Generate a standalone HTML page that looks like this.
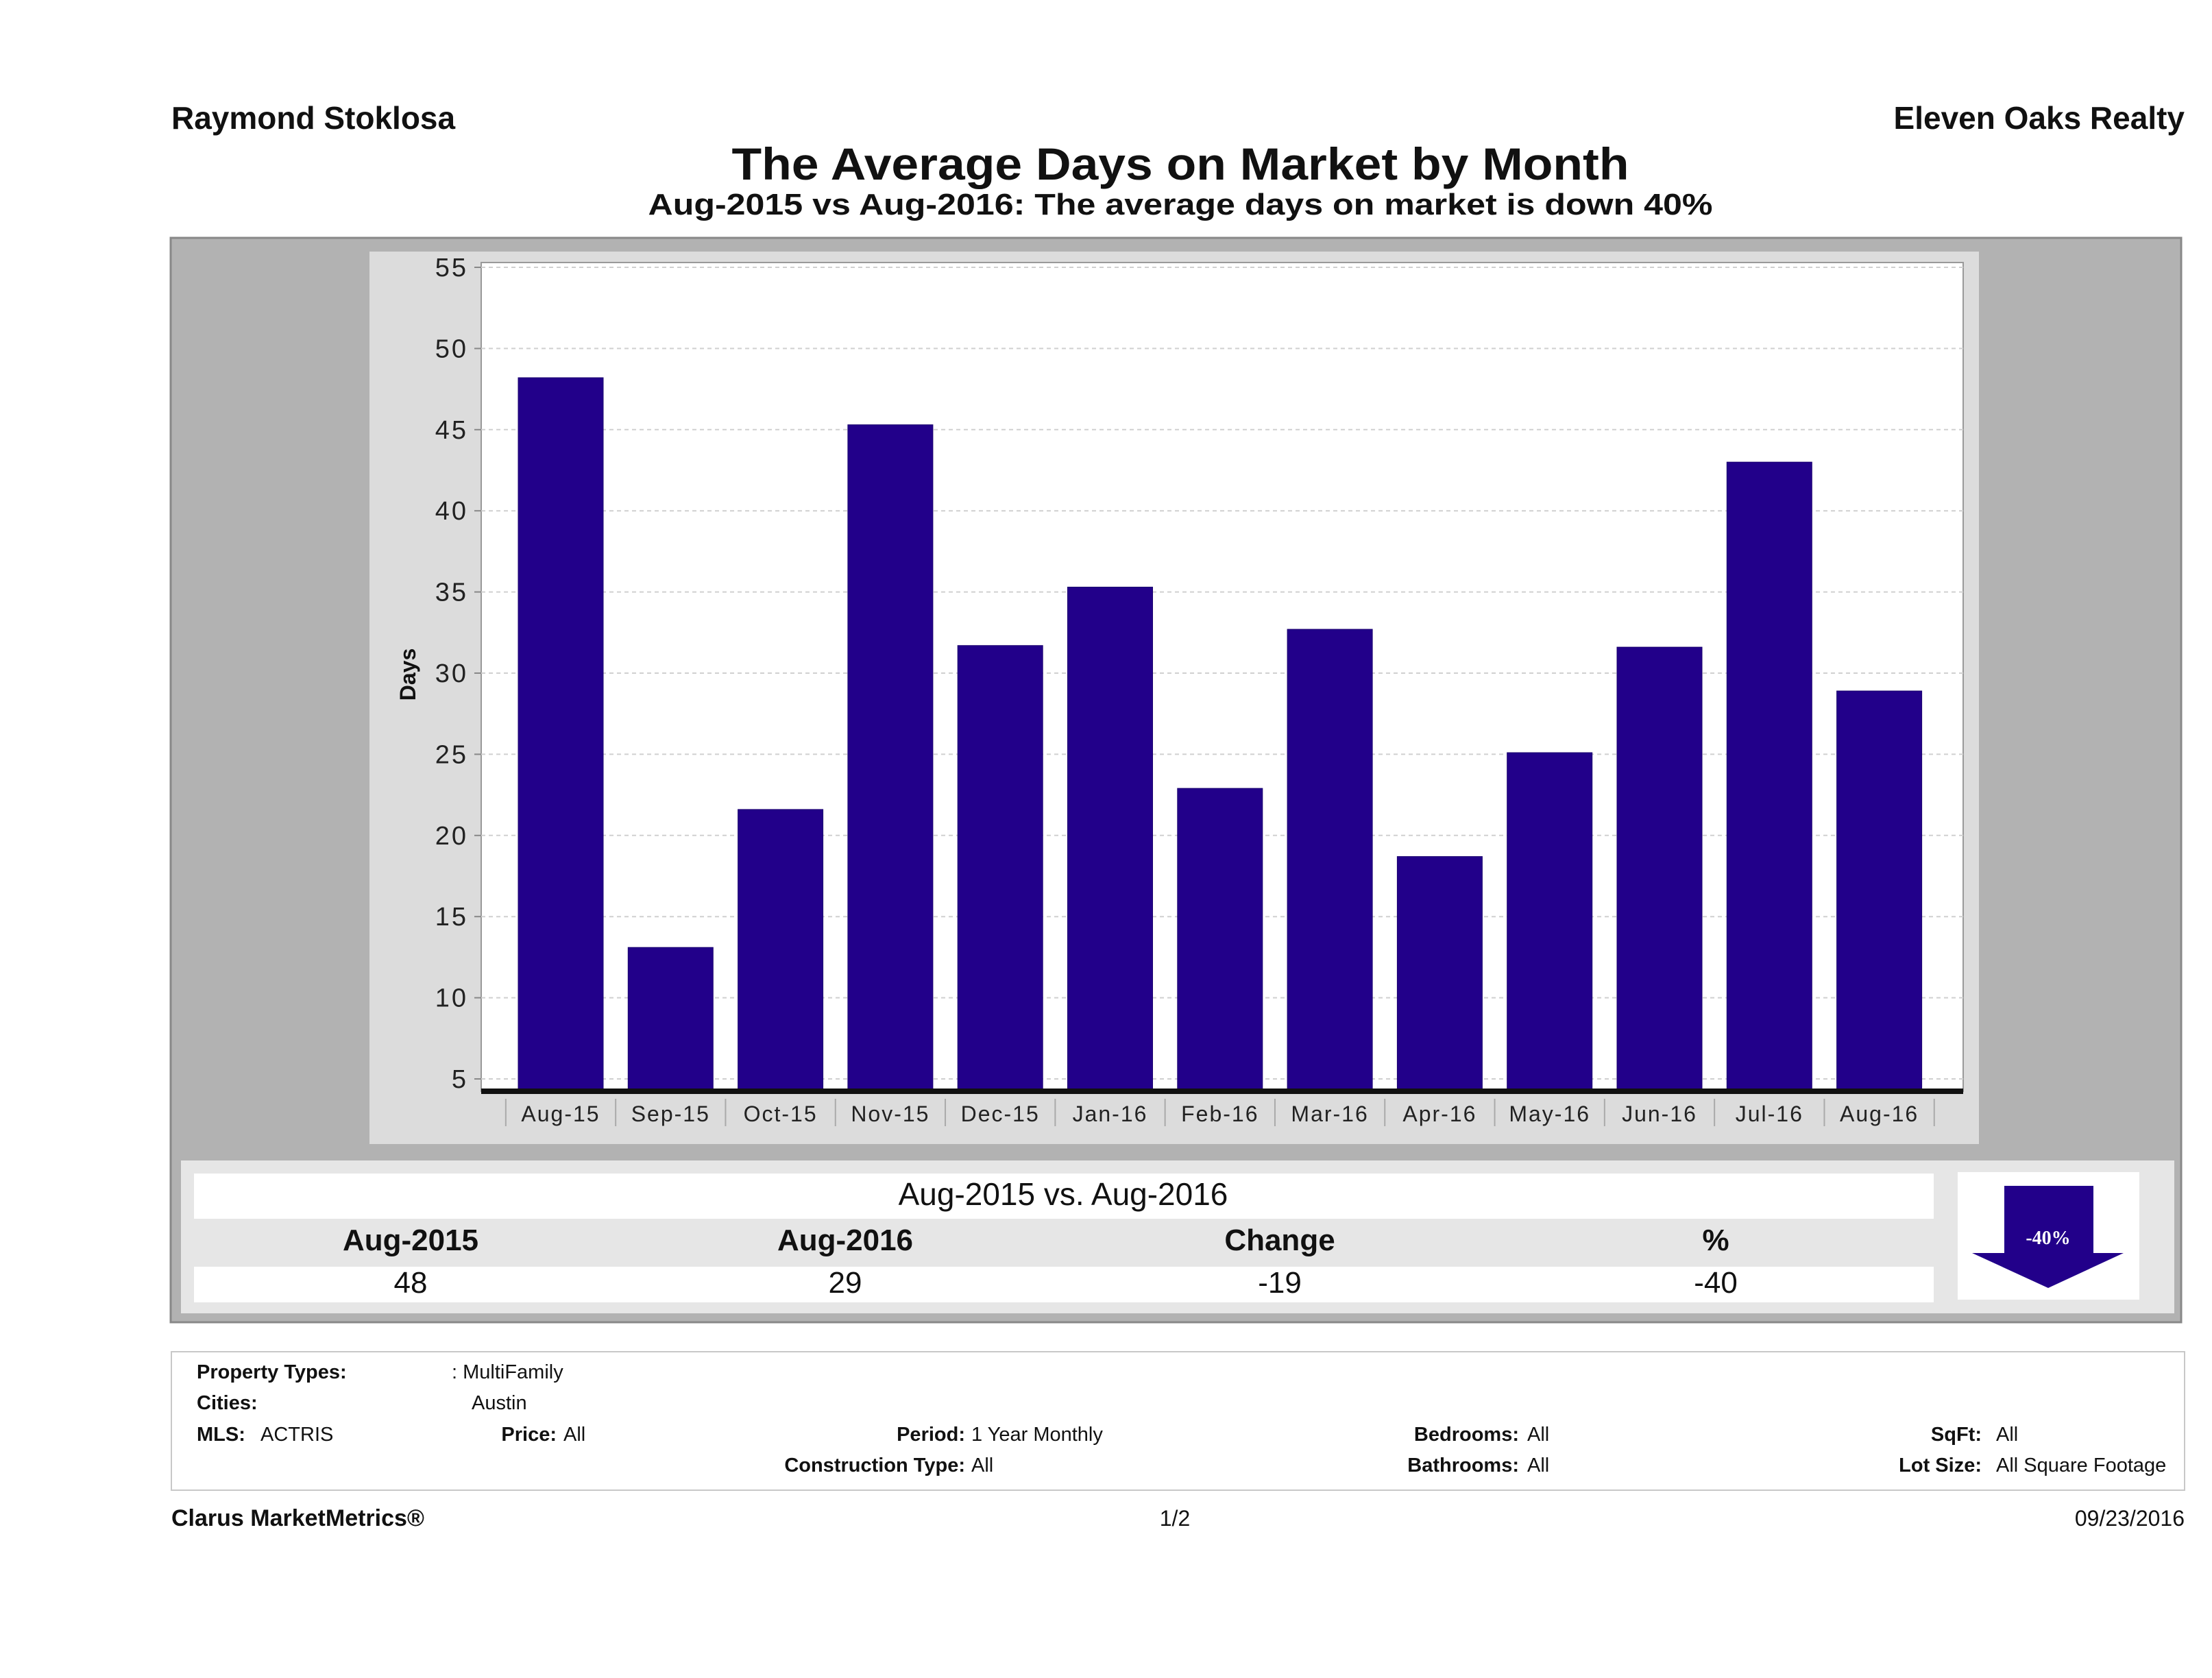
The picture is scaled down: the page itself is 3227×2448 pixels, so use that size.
<!DOCTYPE html>
<html><head><meta charset="utf-8"><style>
html,body{margin:0;padding:0;background:#fff;}
svg{display:block;font-family:"Liberation Sans","DejaVu Sans",sans-serif;}
</style></head><body>
<svg id="page" width="3227" height="2448" viewBox="0 0 3227 2448" xmlns="http://www.w3.org/2000/svg">
<rect width="3227" height="2448" fill="#fff"/>
<text x="250" y="188" font-size="46" font-weight="bold" fill="#111">Raymond Stoklosa</text>
<text x="3187" y="188" font-size="46" font-weight="bold" fill="#111" text-anchor="end">Eleven Oaks Realty</text>
<text x="1722" y="262" font-size="66" font-weight="bold" fill="#111" text-anchor="middle" textLength="1309" lengthAdjust="spacingAndGlyphs">The Average Days on Market by Month</text>
<text x="1722" y="313" font-size="44" font-weight="bold" fill="#111" text-anchor="middle" textLength="1553" lengthAdjust="spacingAndGlyphs">Aug-2015 vs Aug-2016: The average days on market is down 40%</text>

<rect x="249" y="347" width="2933" height="1582" fill="#b2b2b2" stroke="#888" stroke-width="3"/>
<rect x="539" y="367" width="2348" height="1302" fill="#dcdcdc"/>
<rect x="702" y="383" width="2162" height="1209" fill="#fff" stroke="#999" stroke-width="2"/>
<g id="grid"></g>
<g id="bars"></g>
<g id="yaxis"></g>
<g id="xaxis"></g>
<text x="0" y="0" font-size="32" font-weight="bold" fill="#111" text-anchor="middle" transform="translate(606,984) rotate(-90)">Days</text>

<rect x="264" y="1693" width="2908" height="223" fill="#e6e6e6"/>
<rect x="283" y="1712" width="2538" height="66" fill="#fff"/>
<text x="1551" y="1758" font-size="46" fill="#111" text-anchor="middle">Aug-2015 vs. Aug-2016</text>
<rect x="283" y="1848" width="2538" height="52" fill="#fff"/>
<text x="599" y="1824" font-size="44" font-weight="bold" fill="#111" text-anchor="middle">Aug-2015</text>
<text x="1233" y="1824" font-size="44" font-weight="bold" fill="#111" text-anchor="middle">Aug-2016</text>
<text x="1867" y="1824" font-size="44" font-weight="bold" fill="#111" text-anchor="middle">Change</text>
<text x="2503" y="1824" font-size="44" font-weight="bold" fill="#111" text-anchor="middle">%</text>
<text x="599" y="1886" font-size="44" fill="#111" text-anchor="middle">48</text>
<text x="1233" y="1886" font-size="44" fill="#111" text-anchor="middle">29</text>
<text x="1867" y="1886" font-size="44" fill="#111" text-anchor="middle">-19</text>
<text x="2503" y="1886" font-size="44" fill="#111" text-anchor="middle">-40</text>
<rect x="2856" y="1710" width="265" height="186" fill="#fff"/>
<path d="M2924 1730 H3054 V1828 H3098 L2988 1879 L2877 1828 H2924 Z" fill="#22008a"/>
<text x="2988" y="1815" font-size="28" font-weight="bold" fill="#fff" text-anchor="middle" font-family="Liberation Serif, serif">-40%</text>

<rect x="250" y="1972" width="2937" height="202" fill="#fff" stroke="#c8c8c8" stroke-width="2"/>
<g font-size="29" fill="#111">
<text x="287" y="2011" font-weight="bold">Property Types:</text>
<text x="659" y="2011">: MultiFamily</text>
<text x="287" y="2056" font-weight="bold">Cities:</text>
<text x="688" y="2056">Austin</text>
<text x="287" y="2102" font-weight="bold">MLS:</text>
<text x="380" y="2102">ACTRIS</text>
<text x="812" y="2102" font-weight="bold" text-anchor="end">Price:</text>
<text x="822" y="2102">All</text>
<text x="1408" y="2102" font-weight="bold" text-anchor="end">Period:</text>
<text x="1417" y="2102">1 Year Monthly</text>
<text x="1408" y="2147" font-weight="bold" text-anchor="end">Construction Type:</text>
<text x="1417" y="2147">All</text>
<text x="2216" y="2102" font-weight="bold" text-anchor="end">Bedrooms:</text>
<text x="2228" y="2102">All</text>
<text x="2216" y="2147" font-weight="bold" text-anchor="end">Bathrooms:</text>
<text x="2228" y="2147">All</text>
<text x="2891" y="2102" font-weight="bold" text-anchor="end">SqFt:</text>
<text x="2912" y="2102">All</text>
<text x="2891" y="2147" font-weight="bold" text-anchor="end">Lot Size:</text>
<text x="2912" y="2147">All Square Footage</text>
</g>
<text x="250" y="2226" font-size="34" font-weight="bold" fill="#111">Clarus MarketMetrics®</text>
<text x="1714" y="2226" font-size="32" fill="#111" text-anchor="middle">1/2</text>
<text x="3187" y="2226" font-size="32" fill="#111" text-anchor="end">09/23/2016</text>
</svg>
<script>
const categories = ["Aug-15","Sep-15","Oct-15","Nov-15","Dec-15","Jan-16","Feb-16","Mar-16","Apr-16","May-16","Jun-16","Jul-16","Aug-16"];
const daysOnMarket = [48.2,13.1,21.6,45.3,31.7,35.3,22.9,32.7,18.7,25.1,31.6,43.0,28.9];
const yTicks = [5,10,15,20,25,30,35,40,45,50,55];

const NS = "http://www.w3.org/2000/svg";
const plotL = 702, plotR = 2864, baseY = 1592;
function yScale(v){ return 1574 - (v - 5) * (1574 - 390) / 50; }
const step = 160.3, firstCenter = 818, barW = 124;
function xCenter(i){ return firstCenter + i * step; }
function mk(tag, attrs){ const e = document.createElementNS(NS, tag); for (const k in attrs) e.setAttribute(k, attrs[k]); return e; }

const grid = document.getElementById('grid');
const yaxis = document.getElementById('yaxis');
yTicks.forEach(t => {
  const y = yScale(t);
  const g = mk('line', {x1: plotL, x2: plotR, y1: y, y2: y, stroke: '#d0d0d0', 'stroke-width': 2, 'stroke-dasharray': '6,5'});
  
  
  grid.appendChild(g);
  const tk = mk('line', {x1: plotL - 10, x2: plotL, y1: y, y2: y, stroke: '#888', 'stroke-width': 2});
  
  
  yaxis.appendChild(tk);
  const lb = mk('text', {x: 683, y: y + 13, 'font-size': 38, fill: '#222', 'text-anchor': 'end', 'letter-spacing': '3'});
  lb.textContent = t;
  
  
  yaxis.appendChild(lb);
});

const bars = document.getElementById('bars');
daysOnMarket.forEach((v, i) => {
  const top = yScale(v);
  const r = mk('rect', {x: xCenter(i) - barW / 2, y: top, width: barW, height: baseY - top, fill: '#22008a', stroke: '#1a006e', 'stroke-width': 1});
  
  
  bars.appendChild(r);
});

const xaxis = document.getElementById('xaxis');
const base = mk('rect', {x: plotL, y: baseY - 4, width: plotR - plotL, height: 8, fill: '#111'});


xaxis.appendChild(base);
for (let i = 0; i <= categories.length; i++) {
  const x = xCenter(i) - step / 2;
  const s = mk('line', {x1: x, x2: x, y1: 1603, y2: 1643, stroke: '#aaa', 'stroke-width': 2});
  
  
  xaxis.appendChild(s);
}
categories.forEach((c, i) => {
  const t = mk('text', {x: xCenter(i), y: 1636, 'font-size': 32, fill: '#222', 'text-anchor': 'middle', 'letter-spacing': '2'});
  t.textContent = c;
  
  
  xaxis.appendChild(t);
});
</script>
</body></html>
